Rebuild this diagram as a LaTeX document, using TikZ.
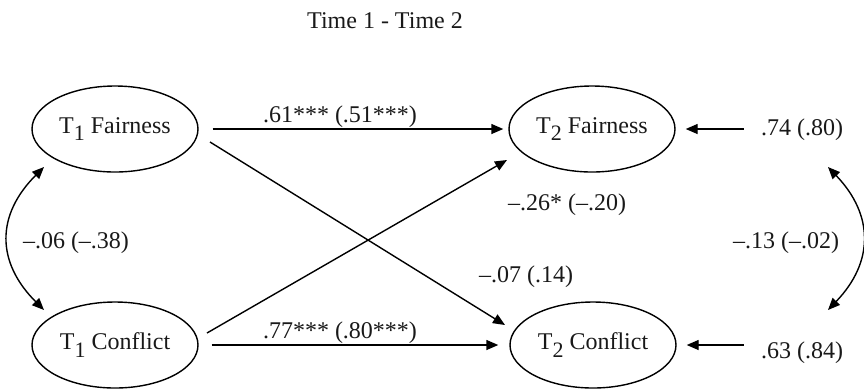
\documentclass[tikz,border=0pt]{standalone}
\usepackage{fontspec}
\setmainfont{Liberation Serif}
\usetikzlibrary{arrows.meta,calc,shapes.geometric}
\newcommand{\Tsub}[1]{T\raisebox{-0.7ex}{\fontsize{11}{11}\selectfont #1}}
\begin{document}
\begin{tikzpicture}[x=0.5pt,y=-0.5pt,
  every node/.style={font=\fontsize{12}{14}\selectfont, text=black!90},
  latent/.style={ellipse, draw, line width=0.7pt, minimum width=83pt, minimum height=43pt, inner sep=0pt},
  lbl/.style={inner sep=0pt},
  arr/.style={line width=0.7pt, -{Triangle[length=6pt,width=5pt]}},
  darr/.style={line width=0.7pt, {Triangle[length=6pt,width=5pt]}-{Triangle[length=6pt,width=5pt]}}]
\useasboundingbox (0,0) rectangle (864,388);
\node[lbl] (title) at (385,21) {Time 1 - Time 2};
\node[latent] (t1f) at (115,129) {\Tsub{1} Fairness};
\node[latent] (t1c) at (115,345) {\Tsub{1} Conflict};
\node[latent] (t2f) at (592,129) {\Tsub{2} Fairness};
\node[latent] (t2c) at (593,345) {\Tsub{2} Conflict};
\node[lbl] (l1) at (340,117) {.61*** (.51***)};
\node[lbl] (l2) at (340,333) {.77*** (.80***)};
\node[lbl] (l3) at (567,205) {–.26* (–.20)};
\node[lbl] (l4) at (526,277) {–.07 (.14)};
\node[lbl] (l5) at (76,243) {–.06 (–.38)};
\node[lbl] (l6) at (786,243) {–.13 (–.02)};
\node[lbl] (e1) at (802,130) {.74 (.80)};
\node[lbl] (e2) at (802,353) {.63 (.84)};
% paths
\draw[arr, shorten <=7pt, shorten >=2.5pt] (t1f.east) -- (t2f.west);
\draw[arr, shorten <=6.5pt, shorten >=5.5pt] (t1c.east) -- (t2c.west);
\draw[arr] ($(t1f.center)+(95,13)$) -- ($(t2c.center)+(-88,-20)$);
\draw[arr] ($(t1c.center)+(92,-12)$) -- ($(t2f.center)+(-85,31)$);
\draw[arr, shorten <=8.5pt, shorten >=5pt] (e1.west |- t2f.east) -- (t2f.east);
\draw[arr, shorten <=8.5pt, shorten >=5pt] (e2.west |- t2c.east) -- (t2c.east);
% correlations
\coordinate (la) at ($(t1f.center)+(-71,38)$);
\coordinate (lb) at ($(t1c.center)+(-71,-35)$);
\coordinate (ra) at ($(t2f.center)+(236,38)$);
\coordinate (rb) at ($(t2c.center)+(235,-35)$);
\draw[darr] (la) .. controls (-4,215) and (-4,262) .. (lb);
\draw[darr] (ra) .. controls (874,215) and (874,262) .. (rb);
\end{tikzpicture}
\end{document}
